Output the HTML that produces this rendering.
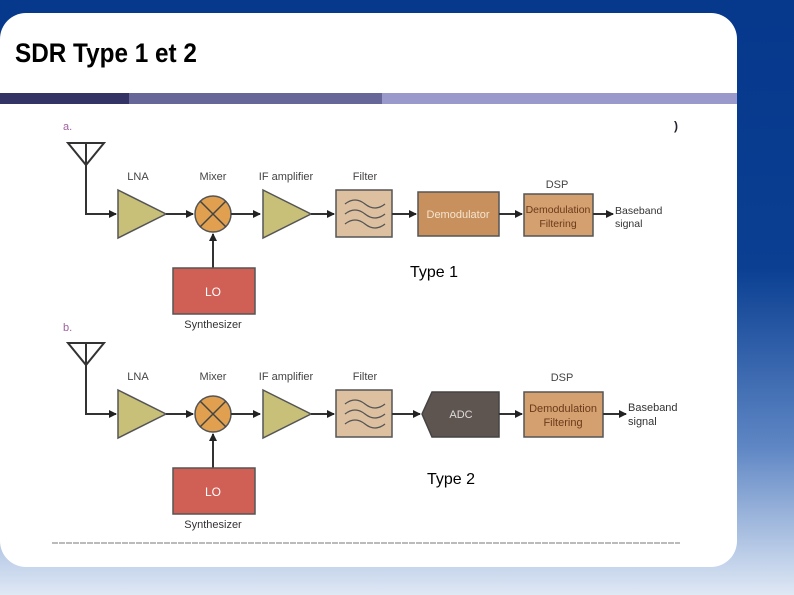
<!DOCTYPE html>
<html><head><meta charset="utf-8"><style>
body{margin:0;width:794px;height:595px;overflow:hidden;background:linear-gradient(180deg,#06388c 0%,#0a3f92 45%,#5e86c4 75%,#dfe8f5 100%);font-family:"Liberation Sans",sans-serif;position:relative}
#panel{position:absolute;left:0;top:13px;width:737px;height:554px;background:#fff;border-radius:26px}
h1{position:absolute;left:15px;top:38px;margin:0;font-size:27px;font-weight:bold;color:#000;transform:scaleX(0.9);transform-origin:left}
.bar{position:absolute;top:93px;height:11px}
.t{position:absolute;font-size:16px;color:#000}
</style></head><body>
<div id="panel"></div>
<h1>SDR Type 1 et 2</h1>
<div class="bar" style="left:0;width:129px;background:#333366"></div>
<div class="bar" style="left:129px;width:253px;background:#666699"></div>
<div class="bar" style="left:382px;width:355px;background:#9999cc"></div>
<svg width="794" height="595" style="position:absolute;left:0;top:0" font-family="Liberation Sans, sans-serif">
<defs><marker id="a" markerWidth="8" markerHeight="8" refX="7" refY="4" orient="auto" markerUnits="userSpaceOnUse"><path d="M0,0 L8,4 L0,8z" fill="#222"/></marker>
<g id="chain">
<path d="M68,143 L104,143 L86,165 Z M86,143 L86,165" fill="none" stroke="#333" stroke-width="2"/>
<path d="M86,165 L86,214 L116,214" fill="none" stroke="#333" stroke-width="2" marker-end="url(#a)"/>
<path d="M118,190 L166,214 L118,238Z" fill="#c8c078" stroke="#555" stroke-width="1.5"/>
<path d="M166,214 L193,214" stroke="#333" stroke-width="2" marker-end="url(#a)"/>
<circle cx="213" cy="214" r="18" fill="#e0a050" stroke="#555" stroke-width="1.5"/>
<path d="M200,201 L226,227 M226,201 L200,227" stroke="#444" stroke-width="1.5"/>
<path d="M231,214 L260,214" stroke="#333" stroke-width="2" marker-end="url(#a)"/>
<path d="M263,190 L311,214 L263,238Z" fill="#c8c078" stroke="#555" stroke-width="1.5"/>
<path d="M311,214 L334,214" stroke="#333" stroke-width="2" marker-end="url(#a)"/>
<rect x="336" y="190" width="56" height="47" fill="#dcc0a0" stroke="#555" stroke-width="1.5"/>
<path d="M345,204 q10,-8 20,0 t20,0 M345,214 q10,-8 20,0 t20,0 M345,224 q10,-8 20,0 t20,0" fill="none" stroke="#555" stroke-width="1.3"/>
<path d="M213,268 L213,234" stroke="#333" stroke-width="2" marker-end="url(#a)"/>
<rect x="173" y="268" width="82" height="46" fill="#d06055" stroke="#555" stroke-width="1.5"/>
<text x="213" y="296" font-size="12" fill="#fff" text-anchor="middle">LO</text>
<text x="213" y="328" font-size="11" fill="#333" text-anchor="middle">Synthesizer</text>
<g font-size="11" fill="#444" text-anchor="middle"><text x="138" y="180">LNA</text><text x="213" y="180">Mixer</text><text x="286" y="180">IF amplifier</text><text x="365" y="180">Filter</text></g>
</g></defs>
<text x="63" y="130" font-size="11" fill="#a060a0">a.</text>
<use href="#chain"/>
<path d="M392,214 L416,214" stroke="#333" stroke-width="2" marker-end="url(#a)"/>
<rect x="418" y="192" width="81" height="44" fill="#c8905c" stroke="#555" stroke-width="1.5"/>
<text x="458" y="218" font-size="11" fill="#f4e4d0" text-anchor="middle">Demodulator</text>
<path d="M499,214 L522,214" stroke="#333" stroke-width="2" marker-end="url(#a)"/>
<rect x="524" y="194" width="69" height="42" fill="#d4a070" stroke="#555" stroke-width="1.5"/>
<text x="558" y="213" font-size="10.5" fill="#6a3a1a" text-anchor="middle">Demodulation</text>
<text x="558" y="227" font-size="10.5" fill="#6a3a1a" text-anchor="middle">Filtering</text>
<text x="557" y="188" font-size="11" fill="#444" text-anchor="middle">DSP</text>
<path d="M593,214 L613,214" stroke="#333" stroke-width="2" marker-end="url(#a)"/>
<text x="615" y="214" font-size="10.5" fill="#333">Baseband</text><text x="615" y="227" font-size="10.5" fill="#333">signal</text>
<text x="674" y="130" font-size="12" font-weight="bold" fill="#223">)</text>
<text x="63" y="331" font-size="11" fill="#a060a0">b.</text>
<use href="#chain" y="200"/>
<path d="M392,414 L420,414" stroke="#333" stroke-width="2" marker-end="url(#a)"/>
<path d="M422,414 L432,392 L499,392 L499,437 L432,437Z" fill="#5e5450" stroke="#444" stroke-width="1.5"/>
<text x="461" y="418" font-size="11" fill="#ddd" text-anchor="middle">ADC</text>
<path d="M499,414 L522,414" stroke="#333" stroke-width="2" marker-end="url(#a)"/>
<rect x="524" y="392" width="79" height="45" fill="#d4a070" stroke="#555" stroke-width="1.5"/>
<text x="563" y="412" font-size="11" fill="#6a3a1a" text-anchor="middle">Demodulation</text>
<text x="563" y="426" font-size="11" fill="#6a3a1a" text-anchor="middle">Filtering</text>
<text x="562" y="381" font-size="11" fill="#444" text-anchor="middle">DSP</text>
<path d="M603,414 L626,414" stroke="#333" stroke-width="2" marker-end="url(#a)"/>
<text x="628" y="411" font-size="11" fill="#333">Baseband</text><text x="628" y="425" font-size="11" fill="#333">signal</text>
<line x1="52" y1="543" x2="680" y2="543" stroke="#777" stroke-width="1" stroke-dasharray="6,1"/>
</svg>
<div class="t" style="left:410px;top:264px">Type 1</div>
<div class="t" style="left:427px;top:471px">Type 2</div>
</body></html>
